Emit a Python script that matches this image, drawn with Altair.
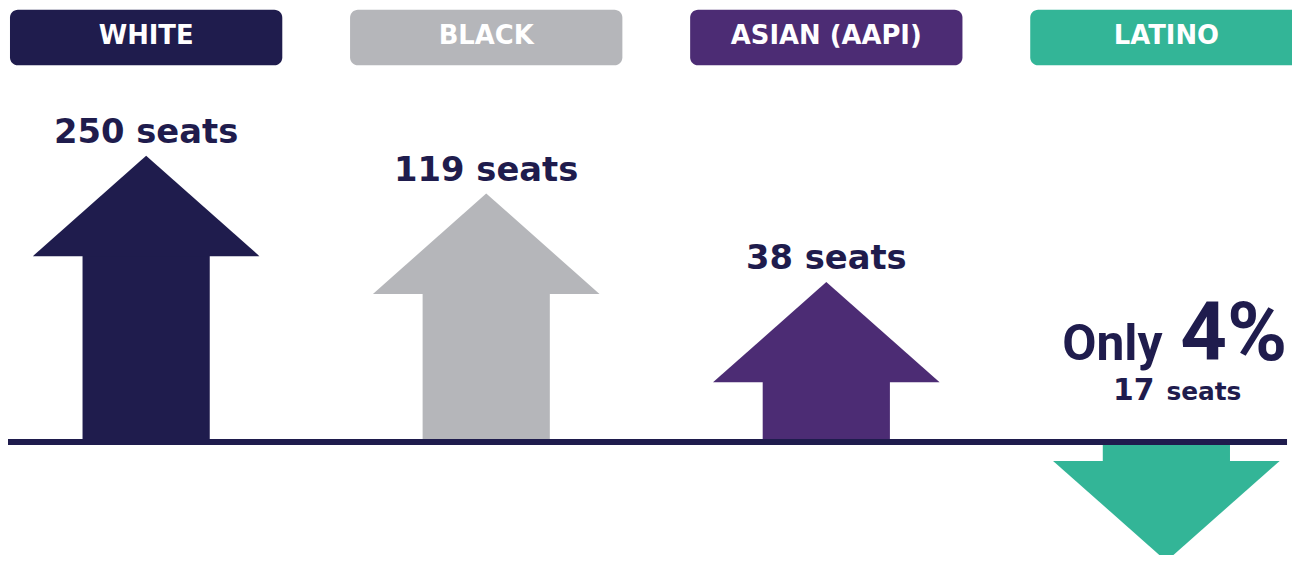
import altair as alt
import pandas as pd

# ---- data ----
categories = ["WHITE", "BLACK", "ASIAN (AAPI)", "LATINO"]
seats = [250, 119, 38, 17]
arrow_length = [288, 250, 161, -120]   # arrow length above/below the baseline (negative = down)
colors = ["#1F1C4D", "#B5B6BA", "#4C2C74", "#33B597"]

# ---- styling / geometry constants ----
NAVY = "#1F1C4D"
W, H = 1292, 547
STEP_PX = 342.2          # distance between category centres
X0_PX = 139              # centre of first category (chart px)
HEAD_HALF_PX = 114       # half width of arrow head
SHAFT_HALF_PX = 64       # half width of arrow shaft
BOX_HALF_PX = 137        # half width of header boxes
HEAD_LEN = 101           # arrow-head length (y units)
FONT = "DejaVu Sans"

total = sum(seats)
hw = HEAD_HALF_PX / STEP_PX
sw = SHAFT_HALF_PX / STEP_PX
bw = BOX_HALF_PX / STEP_PX

base = pd.DataFrame({"cat": categories, "i": range(len(categories)),
                     "seats": seats, "len": arrow_length})
base["dir"] = base["len"].apply(lambda v: 1 if v > 0 else -1)
base["neck"] = base["len"] - base["dir"] * HEAD_LEN
base["shaft_end"] = base["neck"] + base["dir"] * 3   # tuck slightly under the head
base["sx0"] = base["i"] - sw
base["sx1"] = base["i"] + sw
base["bx0"] = base["i"] - bw
base["bx1"] = base["i"] + bw
base["zero"] = 0
base["label"] = base["seats"].astype(str) + " seats"
base["num"] = base["seats"].astype(str)
base["pct"] = (base["seats"] / total * 100).round().astype(int).astype(str) + "%"

heads = []
for _, r in base.iterrows():
    for dx, yy in [(-hw, r["neck"]), (0, r["len"]), (hw, r["neck"])]:
        heads.append({"cat": r["cat"], "x": r["i"] + dx, "y": yy, "y2": r["neck"]})
heads = pd.DataFrame(heads)

up = base[base["len"] > 0]
down = base[base["len"] < 0]

xs = alt.Scale(domain=[0, 3], range=[X0_PX, X0_PX + 3 * STEP_PX], nice=False, zero=False)
ys = alt.Scale(domain=[-112, 435], nice=False, zero=False)
col = alt.Color("cat:N", scale=alt.Scale(domain=categories, range=colors), legend=None)

shafts = alt.Chart(base).mark_rect().encode(
    x=alt.X("sx0:Q", scale=xs, axis=None), x2="sx1:Q",
    y=alt.Y("zero:Q", scale=ys, axis=None), y2="shaft_end:Q",
    color=col)

arrowheads = alt.Chart(heads).mark_area(orient="vertical", interpolate="linear").encode(
    x=alt.X("x:Q", scale=xs, axis=None),
    y=alt.Y("y:Q", scale=ys, axis=None, stack=None), y2="y2:Q",
    color=col, detail="cat:N")

baseline = alt.Chart(pd.DataFrame({"y": [0]})).mark_rule(color=NAVY, strokeWidth=6).encode(
    y=alt.Y("y:Q", scale=ys, axis=None), x=alt.value(-2), x2=alt.value(1287))

boxes = alt.Chart(base).mark_rect(cornerRadius=8).encode(
    x=alt.X("bx0:Q", scale=xs, axis=None), x2="bx1:Q",
    y=alt.value(0), y2=alt.value(56), color=col)

box_text = alt.Chart(base).mark_text(font=FONT, fontWeight="bold", fontSize=26,
                                     color="white", baseline="alphabetic").encode(
    x=alt.X("i:Q", scale=xs, axis=None), y=alt.value(35), text="cat:N")

seat_text = alt.Chart(up).mark_text(font=FONT, fontWeight="bold", fontSize=34, color=NAVY,
                                    baseline="alphabetic", dy=-13).encode(
    x=alt.X("i:Q", scale=xs, axis=None), y=alt.Y("len:Q", scale=ys, axis=None), text="label:N")

only_text = alt.Chart(down).mark_text(font="Roboto", fontWeight="bold", fontSize=50, color=NAVY,
                                      baseline="alphabetic", align="right", dx=-4).encode(
    x=alt.X("i:Q", scale=xs, axis=None), y=alt.value(352), text=alt.value("Only"))

pct_text = alt.Chart(down).mark_text(font="Roboto", fontWeight="bold", fontSize=82, color=NAVY,
                                     baseline="alphabetic", align="left", dx=14).encode(
    x=alt.X("i:Q", scale=xs, axis=None), y=alt.value(352), text="pct:N")

num_text = alt.Chart(down).mark_text(font=FONT, fontWeight="bold", fontSize=30, color=NAVY,
                                     baseline="alphabetic", align="right", dx=-12).encode(
    x=alt.X("i:Q", scale=xs, axis=None), y=alt.value(393), text="num:N")

seats_word = alt.Chart(down).mark_text(font=FONT, fontWeight="bold", fontSize=25, color=NAVY,
                                       baseline="alphabetic", align="left", dx=0).encode(
    x=alt.X("i:Q", scale=xs, axis=None), y=alt.value(393), text=alt.value("seats"))

chart = alt.layer(
    shafts, arrowheads, baseline, boxes, box_text, seat_text,
    only_text, pct_text, num_text, seats_word
).properties(
    width=W, height=H, padding=0, autosize="none", background="white"
).configure_view(strokeWidth=0)

chart.save("out.html", embed_options={"renderer": "svg", "actions": False})
